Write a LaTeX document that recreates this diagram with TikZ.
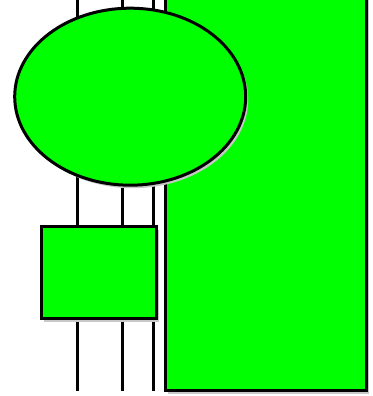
\documentclass[tikz,border=0pt]{standalone}
\usepackage{tikz}
\usetikzlibrary{positioning,shapes.geometric,shadows}
\definecolor{brightgreen}{RGB}{0,255,0}
\definecolor{shadowgrey}{RGB}{200,200,200}

\begin{document}
\begin{tikzpicture}[x=1pt,y=1pt,
    greenshape/.style={draw=black,line width=3pt,fill=brightgreen,inner sep=0pt,
      drop shadow={shadow xshift=2.5pt,shadow yshift=-3pt,fill=shadowgrey,opacity=1}},
    wire/.style={line width=3pt,black}]
  \useasboundingbox (0,0) rectangle (372,396);
  % wires, drawn first so the shapes cover them
  \foreach \name/\xpos in {a/77,b/122,c/153}{
    \coordinate (\name top) at (\xpos,400);
    \coordinate (\name bot) at (\xpos,4.5);
    \draw[wire] (\name top) -- (\name bot);
  }
  \node[greenshape,rectangle,minimum width=201pt,minimum height=398pt] (tall) at (265.5,204) {};
  \node[greenshape,ellipse,minimum width=231pt,minimum height=177pt] (oval) at (130.2,299.3) {};
  \node[greenshape,rectangle,minimum width=114.7pt,minimum height=92pt] (box) at (98.8,123) {};
\end{tikzpicture}
\end{document}
